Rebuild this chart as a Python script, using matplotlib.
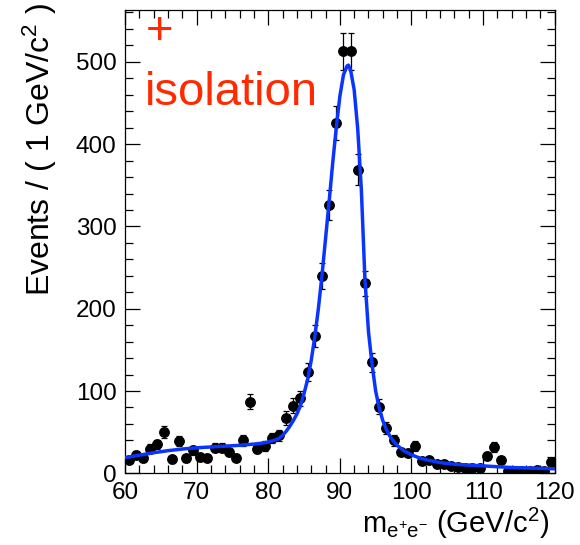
import numpy as np
import matplotlib
matplotlib.use("Agg")
import matplotlib.pyplot as plt
from matplotlib.ticker import MultipleLocator

# ---- data ----
mass_lo, mass_hi = 60, 120
bin_centers = np.arange(60.5, 120.0, 1.0)
counts = [16, 22, 18, 30, 35, 50, 17, 39, 18, 28,
          20, 19, 31, 31, 26, 19, 40, 87, 30, 33,
          43, 46, 67, 82, 91, 123, 167, 240, 326, 426,
          513, 513, 369, 231, 135, 81, 55, 40, 26, 25,
          33, 15, 16, 11, 11, 9, 8, 7, 7, 6,
          21, 32, 16, 3, 3, 3, 3, 4, 3, 14]

fit_x = [60, 62, 64, 66, 68, 70, 72, 74, 76, 78, 79, 80, 81, 81.5, 82, 82.5,
         83, 83.5, 84, 84.5, 85, 85.5, 86, 86.5, 87, 87.5, 88, 88.5, 89, 89.5,
         90, 90.5, 91, 91.2, 91.5, 92, 92.5, 93, 93.5, 94, 94.5, 95, 95.5, 96,
         96.5, 97, 97.5, 98, 99, 100, 101, 102, 104, 106, 108, 110, 112, 114,
         116, 118, 120]
fit_y = [19, 22, 25, 27.5, 29.5, 31, 32, 33, 34, 35.5, 36.5, 38, 40.5, 42.5, 46, 51,
         57, 64, 72, 82, 97, 114, 137, 166, 200, 240, 285, 330, 377, 420,
         458, 484, 495, 496, 490, 466, 418, 345, 236, 172, 132, 100, 79, 64,
         53, 45, 39, 34, 27, 22.5, 19, 16.5, 13, 11, 10, 9, 8, 7,
         6.5, 6, 5.5]

x_ticks = [60, 70, 80, 90, 100, 110, 120]
y_ticks = [0, 100, 200, 300, 400, 500]

plt.rcParams['font.family'] = ['Liberation Sans', 'DejaVu Sans']
plt.rcParams['mathtext.fontset'] = 'custom'
plt.rcParams['mathtext.rm'] = 'Liberation Sans'
plt.rcParams['mathtext.it'] = 'Liberation Sans:italic'

fig = plt.figure(figsize=(5.8, 5.45), dpi=100)
ax = fig.add_axes([125 / 580, 1 - 473.3 / 545, (554.7 - 125) / 580, (473.3 - 10) / 545])

ax.errorbar(bin_centers, counts, yerr=np.sqrt(counts), fmt='o', color='black',
            ms=6.8, elinewidth=0.9, capsize=2.5, capthick=0.9, zorder=2)
ax.plot(fit_x, fit_y, color='#0a35ff', lw=2.5, zorder=3, solid_capstyle='round')

ax.set_xlim(mass_lo, mass_hi)
ax.set_ylim(0, 563)
ax.set_xticks(x_ticks)
ax.set_yticks(y_ticks)
ax.xaxis.set_minor_locator(MultipleLocator(2))
ax.yaxis.set_minor_locator(MultipleLocator(20))
ax.tick_params(which='both', direction='in', top=True, right=True, width=0.9,
               labelsize=17.5)
ax.tick_params(which='major', length=11)
ax.tick_params(which='minor', length=6)
ax.tick_params(axis='x', pad=6)
ax.tick_params(axis='y', pad=6)
for s in ax.spines.values():
    s.set_linewidth(0.9)

fig.text(40 / 580, 1 - 3 / 545, 'Events / ( 1 GeV/c$^{2}$ )', rotation=90,
         ha='center', va='top', fontsize=23)
fig.text(362 / 580, 1 - 533 / 545,
         r'm$_{\mathregular{e^{+}e^{-}}}$ (GeV/c$^{2}$)',
         ha='left', va='baseline', fontsize=21)

ax.text(146 / 580, 1 - 44 / 545, '+', transform=fig.transFigure, color='#ff2a00',
        fontsize=34, ha='left', va='baseline')
ax.text(145 / 580, 1 - 105 / 545, 'isolation', transform=fig.transFigure,
        color='#ff2a00', fontsize=34, ha='left', va='baseline')

fig.savefig('out.png', dpi=100)
